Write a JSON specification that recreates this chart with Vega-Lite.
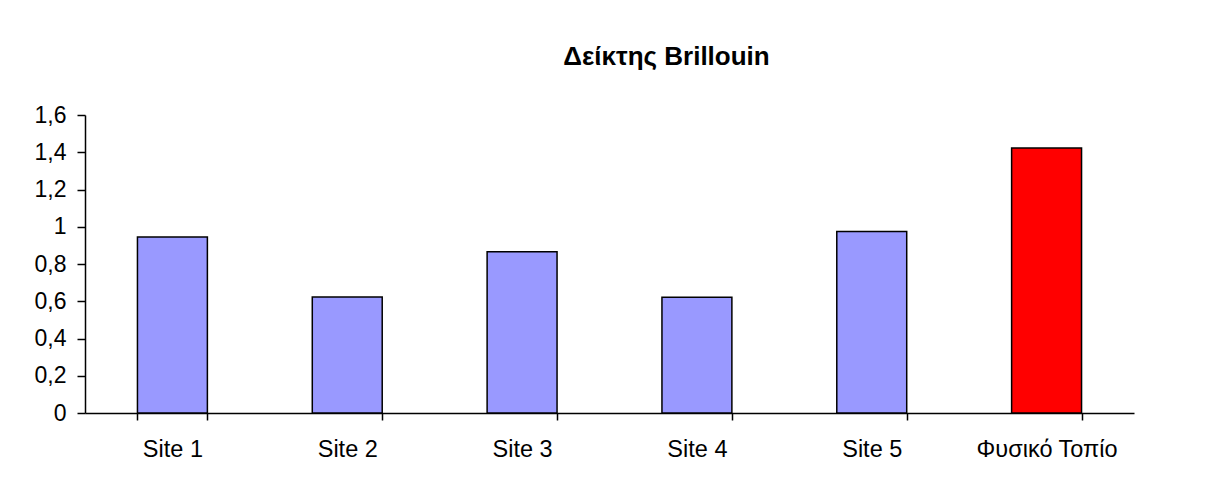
{
  "$schema": "https://vega.github.io/schema/vega-lite/v6.json",
  "autosize": {"type": "none"},
  "width": 1049,
  "height": 298,
  "padding": {"left": 85, "top": 115, "right": 85, "bottom": 73},
  "background": "white",
  "title": {
    "text": "Δείκτης Brillouin",
    "font": "Liberation Sans",
    "fontSize": 26,
    "fontWeight": "bold",
    "color": "black",
    "anchor": "middle",
    "dx": 57,
    "offset": 34
  },
  "data": {
    "values": [
      {"site": "Site 1", "value": 0.945},
      {"site": "Site 2", "value": 0.623},
      {"site": "Site 3", "value": 0.866},
      {"site": "Site 4", "value": 0.622},
      {"site": "Site 5", "value": 0.975},
      {"site": "Φυσικό Τοπίο", "value": 1.423}
    ]
  },
  "mark": {"type": "bar", "stroke": "black", "strokeWidth": 1.5},
  "encoding": {
    "x": {
      "field": "site",
      "type": "nominal",
      "sort": null,
      "scale": {"paddingInner": 0.6, "paddingOuter": 0.3},
      "axis": {
        "title": null,
        "labelAngle": 0,
        "tickBand": "extent",
        "tickSize": 7,
        "tickColor": "black",
        "tickWidth": 1.5,
        "domainColor": "black",
        "domainWidth": 1.5,
        "labelPadding": 17,
        "labelFont": "Liberation Sans",
        "labelFontSize": 23.5,
        "labelColor": "black",
        "grid": false
      }
    },
    "y": {
      "field": "value",
      "type": "quantitative",
      "scale": {"domain": [0, 1.6], "nice": false},
      "axis": {
        "title": null,
        "values": [0, 0.2, 0.4, 0.6, 0.8, 1, 1.2, 1.4, 1.6],
        "labelExpr": "replace(format(datum.value, '.1~f'), '.', ',')",
        "tickSize": 8,
        "tickColor": "black",
        "tickWidth": 1.5,
        "domainColor": "black",
        "domainWidth": 1.5,
        "labelPadding": 11,
        "labelFont": "Liberation Sans",
        "labelFontSize": 23,
        "labelColor": "black",
        "grid": false
      }
    },
    "color": {
      "field": "site",
      "type": "nominal",
      "scale": {
        "domain": ["Site 1", "Site 2", "Site 3", "Site 4", "Site 5", "Φυσικό Τοπίο"],
        "range": ["#9999ff", "#9999ff", "#9999ff", "#9999ff", "#9999ff", "#ff0000"]
      },
      "legend": null
    }
  },
  "config": {"view": {"stroke": null}}
}
